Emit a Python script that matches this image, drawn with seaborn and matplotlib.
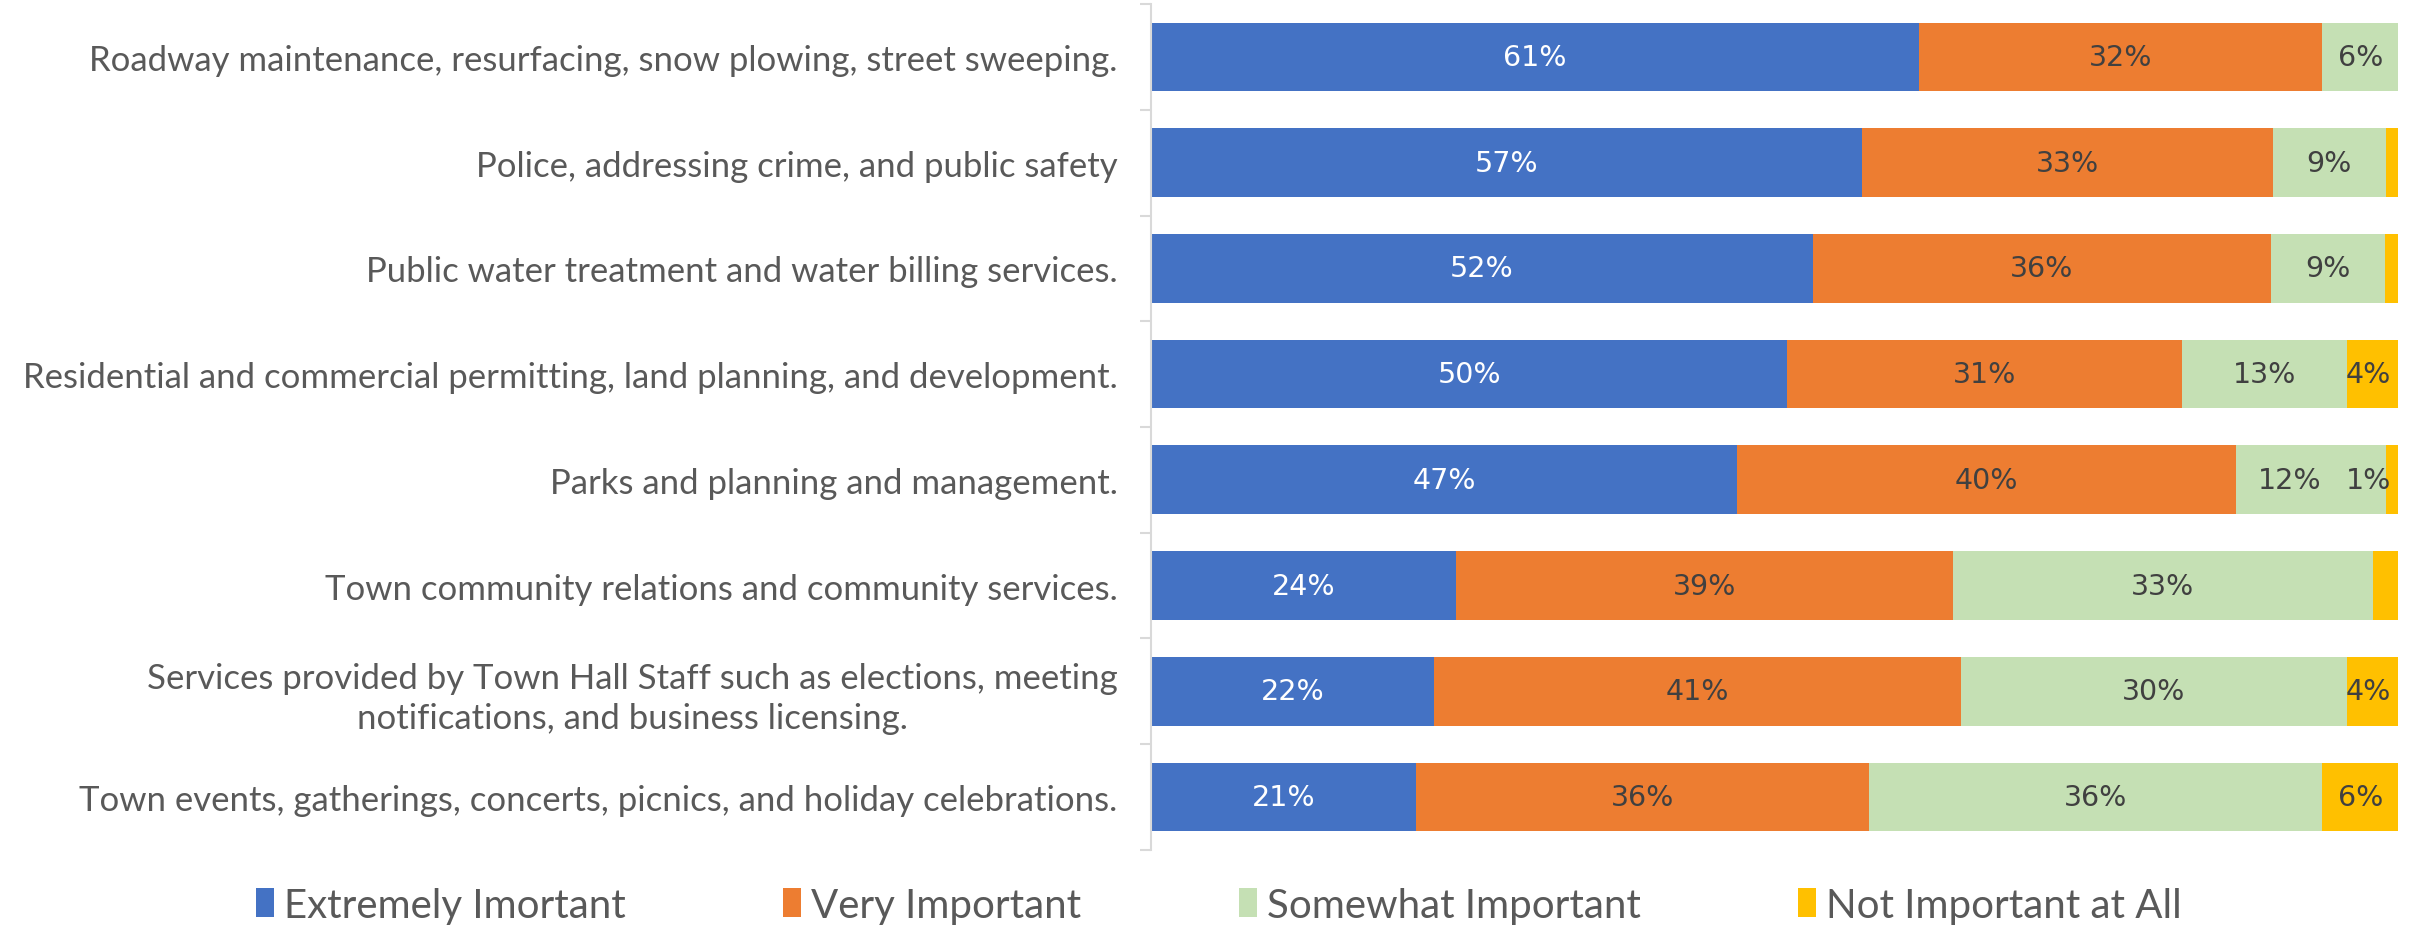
import numpy as np
import pandas as pd
import matplotlib
matplotlib.use('Agg')
import matplotlib.pyplot as plt
import seaborn as sns
from matplotlib.patches import Patch
from matplotlib.ticker import FixedLocator

# ---------------------- data (percent of respondents) ----------------------
categories = [
    'Roadway maintenance, resurfacing, snow plowing, street sweeping.',
    'Police, addressing crime, and public safety',
    'Public water treatment and water billing services.',
    'Residential and commercial permitting, land planning, and development.',
    'Parks and planning and management.',
    'Town community relations and community services.',
    'Services provided by Town Hall Staff such as elections, meeting\nnotifications, and business licensing.',
    'Town events, gatherings, concerts, picnics, and holiday celebrations.',
]
extremely = [61, 57, 52, 50, 47, 24, 22, 21]
very = [32, 33, 36, 31, 40, 39, 41, 36]
somewhat = [6, 9, 9, 13, 12, 33, 30, 36]
not_at_all = [0, 1, 1, 4, 1, 2, 4, 6]
# which "Not Important at All" values carry a data label in the original
nia_labelled = [False, False, False, True, True, False, True, True]

series_names = ['Extremely Imortant', 'Very Important', 'Somewhat Important', 'Not Important at All']
colors = ['#4472C4', '#ED7D31', '#C5E0B4', '#FFC000']

# 100% stacked: normalise every row to its own total
raw = np.array([extremely, very, somewhat, not_at_all], dtype=float)
shares = raw / raw.sum(axis=0) * 100
cum = np.cumsum(shares, axis=0)

sns.set_style('white')
plt.rcParams['font.family'] = ['Lato', 'DejaVu Sans']

fig = plt.figure(figsize=(24.12, 9.28), dpi=100)
ax = fig.add_axes([0.4772, 0.083, 0.5170, 0.9116])

# draw from the full stack back to the first layer so each sits on top
for i in range(3, -1, -1):
    sns.barplot(x=cum[i], y=categories, color=colors[i], orient='h',
                width=0.65, saturation=1, errorbar=None, linewidth=0, ax=ax)

# ---------------------- data labels ----------------------
label_max = 97.6   # keep end labels inside the plot area
min_gap = 6.3      # nudge a label left when it would collide with the end label
for j in range(len(categories)):
    end_x = None
    for i in range(3, -1, -1):
        if raw[i, j] == 0 or (i == 3 and not nia_labelled[j]):
            continue
        xc = min(cum[i, j] - shares[i, j] / 2, label_max)
        if end_x is not None and i == 2:
            xc = min(xc, end_x - min_gap)
        if i == 3:
            end_x = xc
        ax.text(xc, j, f'{int(raw[i, j])}%', ha='center', va='center',
                fontsize=20.5, family='DejaVu Sans',
                color='white' if i == 0 else '#404040')

ax.set_xlim(0, 100)
ax.set_ylim(len(categories) - 0.5, -0.5)
ax.set_xticks([])
ax.set_xlabel('')
ax.set_ylabel('')

for s in ['top', 'right', 'bottom']:
    ax.spines[s].set_visible(False)
ax.spines['left'].set_color('#d9d9d9')
ax.spines['left'].set_linewidth(1.5)

ax.yaxis.set_minor_locator(FixedLocator(np.arange(-0.5, len(categories), 1)))
ax.tick_params(axis='y', which='major', length=0, pad=24, labelsize=25, labelcolor='#595959')
ax.tick_params(axis='y', which='minor', length=8, width=1.5, color='#d9d9d9', left=True)
for lbl in ax.get_yticklabels():
    lbl.set_multialignment('center')
    lbl.set_linespacing(1.3)

handles = [Patch(facecolor=c, edgecolor='none') for c in colors]
fig.legend(handles, series_names, loc='center', bbox_to_anchor=(0.5054, 0.0237),
           ncol=4, frameon=False, fontsize=29, labelcolor='#595959',
           handlelength=0.45, handleheight=0.75, handletextpad=0.25, columnspacing=3.9)

fig.savefig('out.png', dpi=100)
